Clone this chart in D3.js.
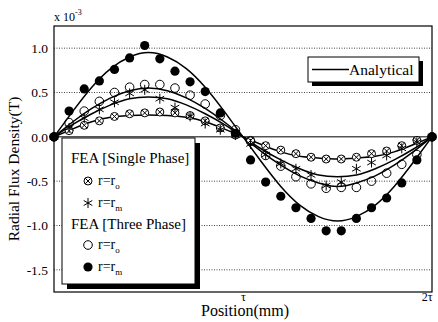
<!DOCTYPE html>
<html>
<head>
<meta charset="utf-8">
<script src="https://cdn.jsdelivr.net/npm/d3@7"></script>
<style>
  body { margin: 0; background: #fff; }
  text { font-family: "Liberation Serif", "Times New Roman", serif; fill: #000; }
</style>
</head>
<body>
<div id="chart"></div>
<script>
// positions in units of tau
var fieldPos = [0, 0.08, 0.16, 0.24, 0.32, 0.40, 0.48, 0.56, 0.64, 0.72, 0.80, 0.88, 0.96,
                1.04, 1.12, 1.20, 1.28, 1.36, 1.44, 1.52, 1.60, 1.68, 1.76, 1.84, 1.92, 2.00];
var anaPos = [0, 0.1, 0.2, 0.3, 0.4, 0.5, 0.6, 0.7, 0.8, 0.9, 1.0,
              1.1, 1.2, 1.3, 1.4, 1.5, 1.6, 1.7, 1.8, 1.9, 2.0];

// analytical curves (x 10^-3 T)
var anaThreeRm = [0, 0.29, 0.56, 0.77, 0.90, 0.95, 0.90, 0.77, 0.56, 0.29, 0,
                  -0.29, -0.56, -0.77, -0.90, -0.95, -0.90, -0.77, -0.56, -0.29, 0];
var anaThreeRo = [0, 0.17, 0.32, 0.44, 0.52, 0.55, 0.52, 0.44, 0.32, 0.17, 0,
                  -0.17, -0.32, -0.44, -0.52, -0.56, -0.52, -0.44, -0.32, -0.17, 0];
var anaSingleRm = [0, 0.14, 0.26, 0.36, 0.43, 0.45, 0.43, 0.36, 0.26, 0.14, 0,
                   -0.14, -0.26, -0.36, -0.43, -0.45, -0.43, -0.36, -0.26, -0.14, 0];
var anaSingleRo = [0, 0.09, 0.17, 0.22, 0.24, 0.245, 0.24, 0.22, 0.17, 0.09, 0,
                   -0.09, -0.17, -0.22, -0.24, -0.25, -0.24, -0.22, -0.17, -0.09, 0];

// FEA results
var feaSingleRo = [0, 0.07, 0.13, 0.18, 0.23, 0.26, 0.27, 0.28, 0.27, 0.24, 0.18, 0.10, 0.02,
                   -0.04, -0.10, -0.15, -0.19, -0.23, -0.25, -0.25, -0.23, -0.19, -0.16, -0.10, -0.04, 0];
var feaSingleRm = [0, 0.10, 0.21, 0.31, 0.39, 0.49, 0.53, 0.43, 0.33, 0.23, 0.15, 0.08, 0.02,
                   -0.08, -0.20, -0.30, -0.36, -0.43, -0.55, -0.51, -0.36, -0.29, -0.21, -0.13, -0.06, 0];
var feaThreeRo = [0, 0.16, 0.29, 0.40, 0.50, 0.56, 0.59, 0.59, 0.55, 0.47, 0.37, 0.24, 0.08,
                  -0.05, -0.21, -0.33, -0.45, -0.53, -0.58, -0.57, -0.57, -0.50, -0.41, -0.31, -0.20, 0];
var feaThreeRm = [0, 0.29, 0.54, 0.63, 0.76, 0.89, 1.03, 0.88, 0.74, 0.62, 0.51, 0.27, 0.04,
                  -0.26, -0.51, -0.67, -0.80, -0.92, -1.06, -1.06, -0.92, -0.80, -0.69, -0.52, -0.26, 0];

var yTicks = [1.0, 0.5, 0.0, -0.5, -1.0, -1.5];
var gridTicks = [1.0, 0.5, -0.5, -1.0, -1.5];
var xTicks = [1, 2];
var xTickLabels = ["\u03c4", "2\u03c4"];

var W = 438, H = 322;
var margin = { top: 26, right: 6, bottom: 30, left: 54 };
var width = W - margin.left - margin.right;
var height = H - margin.top - margin.bottom;

var svg = d3.select("#chart").append("svg")
    .attr("width", W)
    .attr("height", H);

var g = svg.append("g")
    .attr("transform", "translate(" + margin.left + "," + margin.top + ")");

var x = d3.scaleLinear().domain([0, 2]).range([0, width]);
var y = d3.scaleLinear().domain([-1.75, 1.25]).range([height, 0]);

// dotted grid
g.selectAll(".grid").data(gridTicks).enter().append("line")
    .attr("class", "grid")
    .attr("x1", 0).attr("x2", width)
    .attr("y1", function (d) { return y(d); })
    .attr("y2", function (d) { return y(d); })
    .attr("stroke", "#444")
    .attr("stroke-width", 1)
    .attr("stroke-dasharray", "1,1.5");

// zero line
g.append("line")
    .attr("x1", 0).attr("x2", width)
    .attr("y1", y(0)).attr("y2", y(0))
    .attr("stroke", "#000")
    .attr("stroke-width", 1);

// axes
var yAxis = d3.axisLeft(y).tickValues(yTicks).tickSize(0).tickPadding(6)
    .tickFormat(function (d) { return d.toFixed(1); });
var ya = g.append("g").call(yAxis);
ya.select(".domain").remove();
ya.selectAll("text").style("font-size", "13.5px").style("font-family", "Liberation Serif");

var xAxis = d3.axisBottom(x).tickValues(xTicks).tickSize(0).tickPadding(0)
    .tickFormat(function (d, i) { return xTickLabels[i]; });
var xa = g.append("g").attr("transform", "translate(0," + height + ")").call(xAxis);
xa.select(".domain").remove();
xa.selectAll("text").style("font-size", "12px").style("font-family", "Liberation Serif");
xa.selectAll("text").filter(function (d) { return d == 2; }).attr("text-anchor", "end");

// analytical lines
var line = d3.line()
    .x(function (d, i) { return x(anaPos[i]); })
    .y(function (d) { return y(d); })
    .curve(d3.curveNatural);

[anaThreeRm, anaThreeRo, anaSingleRm, anaSingleRo].forEach(function (s) {
    g.append("path")
        .datum(s)
        .attr("d", line)
        .attr("fill", "none")
        .attr("stroke", "#000")
        .attr("stroke-width", 1.5);
});

// marker drawing
function drawMarker(sel, type) {
    if (type == "xcircle") {
        sel.append("circle").attr("r", 4).attr("fill", "#fff").attr("stroke", "#000").attr("stroke-width", 1);
        sel.append("path").attr("d", "M-2.8,-2.8L2.8,2.8M-2.8,2.8L2.8,-2.8")
            .attr("stroke", "#000").attr("stroke-width", 1);
    } else if (type == "star") {
        sel.append("path").attr("d", "M0,-5L0,5M-4.3,-2.5L4.3,2.5M-4.3,2.5L4.3,-2.5")
            .attr("stroke", "#000").attr("stroke-width", 1);
    } else if (type == "open") {
        sel.append("circle").attr("r", 4.3).attr("fill", "none").attr("stroke", "#000").attr("stroke-width", 1);
    } else {
        sel.append("circle").attr("r", 4.6).attr("fill", "#000");
    }
}

var series = [
    { data: feaSingleRo, type: "xcircle" },
    { data: feaSingleRm, type: "star" },
    { data: feaThreeRo, type: "open" },
    { data: feaThreeRm, type: "filled" }
];

series.forEach(function (s) {
    var pts = g.append("g").selectAll("g").data(s.data).enter().append("g")
        .attr("transform", function (d, i) {
            return "translate(" + x(fieldPos[i]) + "," + y(d) + ")";
        });
    drawMarker(pts, s.type);
});

// frame
g.append("rect")
    .attr("width", width).attr("height", height)
    .attr("fill", "none").attr("stroke", "#000").attr("stroke-width", 1.2);

// Analytical legend
var lg1 = svg.append("g").attr("transform", "translate(308,57)");
lg1.append("rect").attr("x", 4).attr("y", 4).attr("width", 111).attr("height", 25).attr("fill", "#000");
lg1.append("rect").attr("width", 111).attr("height", 25).attr("fill", "#fff").attr("stroke", "#000").attr("stroke-width", 1);
lg1.append("line").attr("x1", 4).attr("x2", 41).attr("y1", 12.5).attr("y2", 12.5)
    .attr("stroke", "#000").attr("stroke-width", 1.5);
lg1.append("text").attr("x", 41).attr("y", 18).style("font-size", "15.5px").text("Analytical");

// FEA legend
var lg2 = svg.append("g").attr("transform", "translate(62,138)");
lg2.append("rect").attr("x", 5).attr("y", 5).attr("width", 133).attr("height", 146).attr("fill", "#000");
lg2.append("rect").attr("width", 133).attr("height", 146).attr("fill", "#fff").attr("stroke", "#000").attr("stroke-width", 1);

var legendRows = [
    { kind: "head", text: "FEA [Single Phase]", y: 25 },
    { kind: "item", type: "xcircle", sub: "o", y: 43 },
    { kind: "item", type: "star", sub: "m", y: 65 },
    { kind: "head", text: "FEA [Three Phase]", y: 91 },
    { kind: "item", type: "open", sub: "o", y: 107 },
    { kind: "item", type: "filled", sub: "m", y: 129 }
];

legendRows.forEach(function (r) {
    if (r.kind == "head") {
        lg2.append("text").attr("x", 9).attr("y", r.y).style("font-size", "15px").text(r.text);
    } else {
        var m = lg2.append("g").attr("transform", "translate(26," + r.y + ")");
        drawMarker(m, r.type);
        var t = lg2.append("text").attr("x", 36).attr("y", r.y + 4).style("font-size", "14px");
        t.append("tspan").text("r=r");
        t.append("tspan").attr("dy", 4).style("font-size", "9px").text(r.sub);
    }
});

// titles
svg.append("text")
    .attr("transform", "translate(19,169) rotate(-90)")
    .attr("text-anchor", "middle")
    .style("font-size", "15.5px")
    .text("Radial Flux Density(T)");

svg.append("text")
    .attr("x", margin.left + width / 2 + 2)
    .attr("y", 316)
    .attr("text-anchor", "middle")
    .style("font-size", "16px")
    .text("Position(mm)");

var mult = svg.append("text").attr("x", 54).attr("y", 21).style("font-size", "12px");
mult.append("tspan").text("x 10");
mult.append("tspan").attr("dy", -6).style("font-size", "8px").text("-3");
</script>
</body>
</html>
